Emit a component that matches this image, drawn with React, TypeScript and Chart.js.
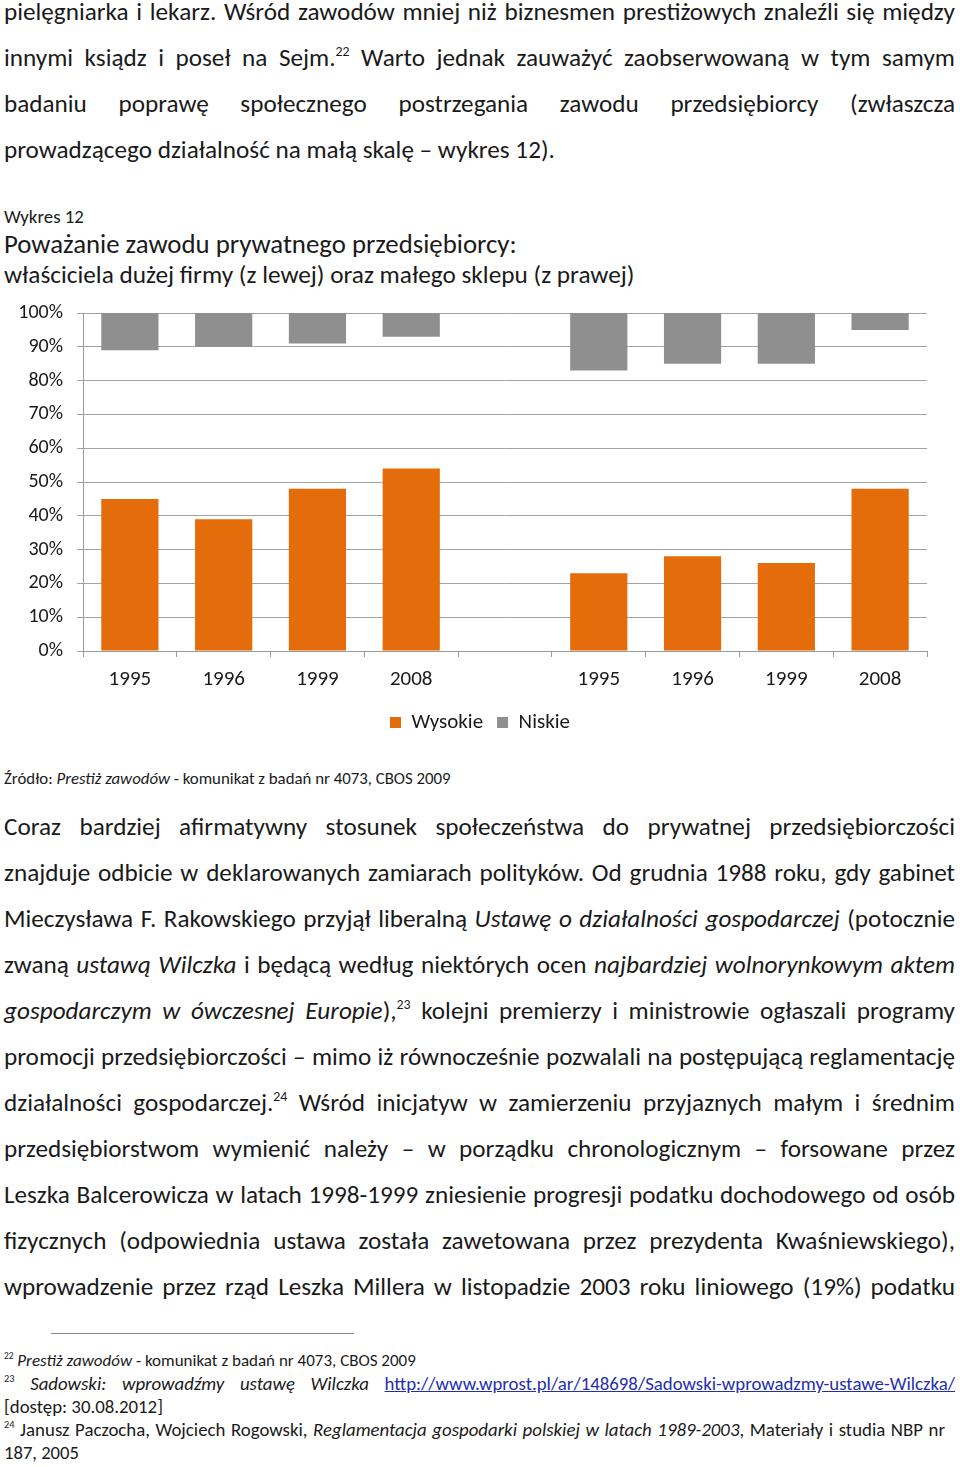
import React, { useEffect, useLayoutEffect, useRef } from 'react';
import { Chart, registerables } from 'chart.js';

Chart.register(...registerables);

const categories = ['1995', '1996', '1999', '2008', '', '1995', '1996', '1999', '2008'];
const wysokie: (number | null)[] = [45, 39, 48, 54, null, 23, 28, 26, 48];
const niskie: (number | null)[] = [11, 10, 9, 7, null, 17, 15, 15, 5];
const seriesNames = ['Wysokie', 'Niskie'];
const seriesColors = ['#E46C0A', '#8F8F8F'];
const yMin = 0;
const yMax = 100;
const yStep = 10;

const FONT = 'Carlito, Lato, sans-serif';
const TEXT = '#1a1a1a';

function L({ c, size, w, j, fit, g, left = 4, children }: any) {
  const lh = 34;
  return (
    <div
      data-w={w ?? ''}
      data-j={j ? '1' : ''}
      data-fit={fit ? '1' : ''}
      data-g={g ?? ''}
      data-l={left}
      data-size={size}
      style={{
        position: 'absolute',
        left,
        top: c - lh / 2,
        lineHeight: lh + 'px',
        fontSize: size,
        whiteSpace: 'nowrap',
        color: TEXT,
      }}
    >
      {children}
    </div>
  );
}

const Sup = ({ children }: any) => (
  <sup style={{ fontSize: '0.55em', lineHeight: 0, verticalAlign: '0.75em' }}>{children}</sup>
);

function BarChart() {
  const ref = useRef<HTMLCanvasElement>(null);
  useEffect(() => {
    if (!ref.current) return;
    const chart = new Chart(ref.current, {
      type: 'bar',
      data: {
        labels: categories,
        datasets: [
          {
            label: seriesNames[0],
            data: wysokie.map((v) => (v == null ? null : [0, v])) as any,
            backgroundColor: seriesColors[0],
            borderWidth: 0,
            grouped: false,
            barPercentage: 0.61,
            categoryPercentage: 1,
          },
          {
            label: seriesNames[1],
            data: niskie.map((v) => (v == null ? null : [yMax - v, yMax])) as any,
            backgroundColor: seriesColors[1],
            borderWidth: 0,
            grouped: false,
            barPercentage: 0.61,
            categoryPercentage: 1,
          },
        ],
      },
      options: {
        responsive: false,
        animation: false,
        layout: { padding: { top: 0, right: 0, left: 0, bottom: 0 } },
        plugins: {
          tooltip: { enabled: false },
          legend: {
            position: 'bottom',
            labels: {
              boxWidth: 11,
              boxHeight: 11,
              padding: 14,
              color: TEXT,
              font: { family: FONT, size: 21 },
            },
          },
        },
        scales: {
          x: {
            grid: { drawOnChartArea: false, drawTicks: true, tickLength: 6, color: '#9a9a9a' },
            border: { color: '#9a9a9a' },
            ticks: {
              color: TEXT,
              font: { family: FONT, size: 21 },
              padding: 10,
              maxRotation: 0,
              autoSkip: false,
            },
            afterFit: (s: any) => {
              s.height = 47;
            },
          },
          y: {
            min: yMin,
            max: yMax,
            grid: { color: '#a3a3a3', tickLength: 6 },
            border: { color: '#9a9a9a' },
            ticks: {
              stepSize: yStep,
              color: TEXT,
              font: { family: FONT, size: 20 },
              padding: 14,
              callback: (v: any) => v + '%',
            },
            afterFit: (s: any) => {
              s.width = 83;
            },
          },
          yRight: {
            type: 'linear',
            position: 'right',
            display: true,
            grid: { display: false, drawTicks: false },
            border: { display: false },
            ticks: { display: false },
            afterFit: (s: any) => {
              s.width = 33;
            },
          },
        },
      },
    });
    return () => chart.destroy();
  }, []);
  return (
    <canvas
      ref={ref}
      width={960}
      height={456}
      style={{ position: 'absolute', left: 0, top: 287, width: 960, height: 456 }}
    />
  );
}

export default function App() {
  const pageRef = useRef<HTMLDivElement>(null);
  useLayoutEffect(() => {
    const root = pageRef.current;
    if (!root) return;
    const run = () => {
      const els = Array.from(root.querySelectorAll<HTMLDivElement>('div[data-w]'));
      const groups: Record<string, number> = {};
      els.forEach((el) => {
        if (el.dataset.fit !== '1') return;
        const w = parseFloat(el.dataset.w || '');
        const left = parseFloat(el.dataset.l || '0');
        const base = parseFloat(el.dataset.size || '16');
        el.style.fontSize = base + 'px';
        el.style.wordSpacing = '0px';
        const natural = el.getBoundingClientRect().width;
        const size = (base * (w - left)) / natural;
        el.style.fontSize = size + 'px';
        if (el.dataset.g) groups[el.dataset.g] = size;
      });
      els.forEach((el) => {
        if (el.dataset.j !== '1') return;
        const w = parseFloat(el.dataset.w || '');
        const left = parseFloat(el.dataset.l || '0');
        const g = el.dataset.g || '';
        if (groups[g]) el.style.fontSize = groups[g] + 'px';
        el.style.wordSpacing = '0px';
        const natural = el.getBoundingClientRect().width;
        const diff = w - left - natural;
        const spaces = ((el.textContent || '').match(/ /g) || []).length;
        if (spaces) el.style.wordSpacing = diff / spaces + 'px';
      });
    };
    run();
    if ((document as any).fonts && (document as any).fonts.ready) {
      (document as any).fonts.ready.then(run);
    }
  }, []);

  const B = 24;
  const p2 = (k: number) => 827 + 46 * k;
  return (
    <div
      ref={pageRef}
      style={{
        position: 'absolute',
        left: 0,
        top: 0,
        width: 960,
        height: 1467,
        background: '#fff',
        overflow: 'hidden',
        fontFamily: FONT,
      }}
    >
      <L c={12} size={B} w={955} j g="body">
        pielęgniarka i lekarz. Wśród zawodów mniej niż biznesmen prestiżowych znaleźli się między
      </L>
      <L c={58} size={B} w={955} j g="body">
        innymi ksiądz i poseł na Sejm.<Sup>22</Sup> Warto jednak zauważyć zaobserwowaną w tym samym
      </L>
      <L c={104} size={B} w={955} j g="body">
        badaniu poprawę społecznego postrzegania zawodu przedsiębiorcy (zwłaszcza
      </L>
      <L c={150} size={B} w={555} fit g="body">
        prowadzącego działalność na małą skalę – wykres 12).
      </L>

      <L c={217} size={17} w={84} fit>
        Wykres 12
      </L>
      <L c={244} size={B} w={517} fit>
        Poważanie zawodu prywatnego przedsiębiorcy:
      </L>
      <L c={275} size={B} w={635} fit>
        właściciela dużej firmy (z lewej) oraz małego sklepu (z prawej)
      </L>

      <BarChart />

      <L c={779} size={16} w={451} fit>
        Źródło: <i>Prestiż zawodów</i> - komunikat z badań nr 4073, CBOS 2009
      </L>

      <L c={p2(0)} size={B} w={955} j g="body">
        Coraz bardziej afirmatywny stosunek społeczeństwa do prywatnej przedsiębiorczości
      </L>
      <L c={p2(1)} size={B} w={955} j g="body">
        znajduje odbicie w deklarowanych zamiarach polityków. Od grudnia 1988 roku, gdy gabinet
      </L>
      <L c={p2(2)} size={B} w={955} j g="body">
        Mieczysława F. Rakowskiego przyjął liberalną <i>Ustawę o działalności gospodarczej</i> (potocznie
      </L>
      <L c={p2(3)} size={B} w={955} j g="body">
        zwaną <i>ustawą Wilczka</i> i będącą według niektórych ocen <i>najbardziej wolnorynkowym aktem</i>
      </L>
      <L c={p2(4)} size={B} w={955} j g="body">
        <i>gospodarczym w ówczesnej Europie</i>),<Sup>23</Sup> kolejni premierzy i ministrowie ogłaszali programy
      </L>
      <L c={p2(5)} size={B} w={955} j g="body">
        promocji przedsiębiorczości – mimo iż równocześnie pozwalali na postępującą reglamentację
      </L>
      <L c={p2(6)} size={B} w={955} j g="body">
        działalności gospodarczej.<Sup>24</Sup> Wśród inicjatyw w zamierzeniu przyjaznych małym i średnim
      </L>
      <L c={p2(7)} size={B} w={955} j g="body">
        przedsiębiorstwom wymienić należy – w porządku chronologicznym – forsowane przez
      </L>
      <L c={p2(8)} size={B} w={955} j g="body">
        Leszka Balcerowicza w latach 1998-1999 zniesienie progresji podatku dochodowego od osób
      </L>
      <L c={p2(9)} size={B} w={955} j g="body">
        fizycznych (odpowiednia ustawa została zawetowana przez prezydenta Kwaśniewskiego),
      </L>
      <L c={p2(10)} size={B} w={955} j g="body">
        wprowadzenie przez rząd Leszka Millera w listopadzie 2003 roku liniowego (19%) podatku
      </L>

      <div
        style={{
          position: 'absolute',
          left: 51,
          top: 1333,
          width: 303,
          height: 0,
          borderTop: '1px solid #8a8a8a',
        }}
      />

      <L c={1361} size={17} w={416} fit>
        <Sup>22</Sup> <i>Prestiż zawodów</i> - komunikat z badań nr 4073, CBOS 2009
      </L>
      <L c={1384} size={17} w={955} j g="fn">
        <Sup>23</Sup> <i>Sadowski: wprowadźmy ustawę Wilczka</i>{' '}
        <span style={{ color: '#1f2fb0', textDecoration: 'underline' }}>
          http://www.wprost.pl/ar/148698/Sadowski-wprowadzmy-ustawe-Wilczka/
        </span>
      </L>
      <L c={1407} size={17} w={163} fit g="fn">
        [dostęp: 30.08.2012]
      </L>
      <L c={1430} size={17} w={945} j g="fn">
        <Sup>24</Sup> Janusz Paczocha, Wojciech Rogowski,{' '}
        <i>Reglamentacja gospodarki polskiej w latach 1989-2003</i>, Materiały i studia NBP nr
      </L>
      <L c={1453} size={17} w={79} fit>
        187, 2005
      </L>
    </div>
  );
}
